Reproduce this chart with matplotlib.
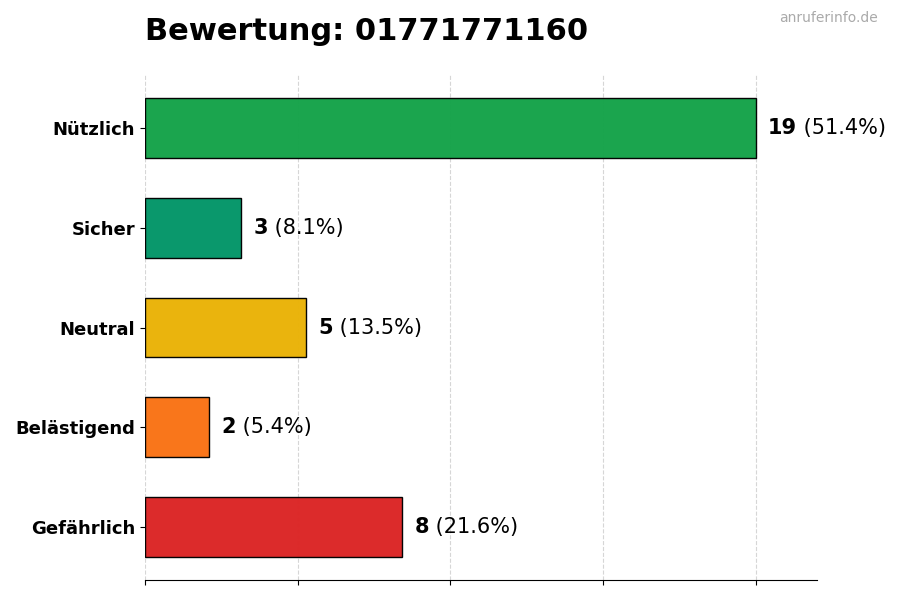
import matplotlib.pyplot as plt
import numpy as np

categories = ['Nützlich', 'Sicher', 'Neutral', 'Belästigend', 'Gefährlich']
counts = [19, 3, 5, 2, 8]
colors = ['#16a34a', '#059669', '#eab308', '#f97316', '#dc2626']
title = 'Bewertung: 01771771160'

total = sum(counts)
y = np.arange(len(categories))[::-1]

fig = plt.figure(figsize=(9, 6), dpi=100)
ax = fig.add_axes([0.161, 0.0333, 0.7467, 0.8417])

ax.barh(y, counts, height=0.6, color=colors, edgecolor='black', linewidth=1, alpha=0.98, zorder=2)
ax.set_yticks(y)
ax.set_yticklabels(categories, fontsize=13, fontweight='bold')
ax.set_xlim(0, max(counts) * 1.1)
ax.set_xticks(np.linspace(0, max(counts), 5))
ax.set_xticklabels([])
ax.grid(axis='x', linestyle='--', color='#cccccc', alpha=0.8, zorder=0)
ax.set_axisbelow(True)
for s in ['top', 'right', 'left']:
    ax.spines[s].set_visible(False)

off = max(counts) * 0.02
for yi, c in zip(y, counts):
    t = ax.text(c + off, yi, str(c), fontsize=15, fontweight='bold', va='center', ha='left')
    ax.annotate(' (%.1f%%)' % (c / total * 100), xy=(1, 0), xycoords=t,
                va='bottom', ha='left', fontsize=15)

fig.text(0.161, 0.947, title, fontsize=22, fontweight='bold', ha='left', va='center')
fig.text(0.975, 0.97, 'anruferinfo.de', fontsize=10, color='#aaaaaa', ha='right', va='center')

fig.savefig('out.png', dpi=100)
